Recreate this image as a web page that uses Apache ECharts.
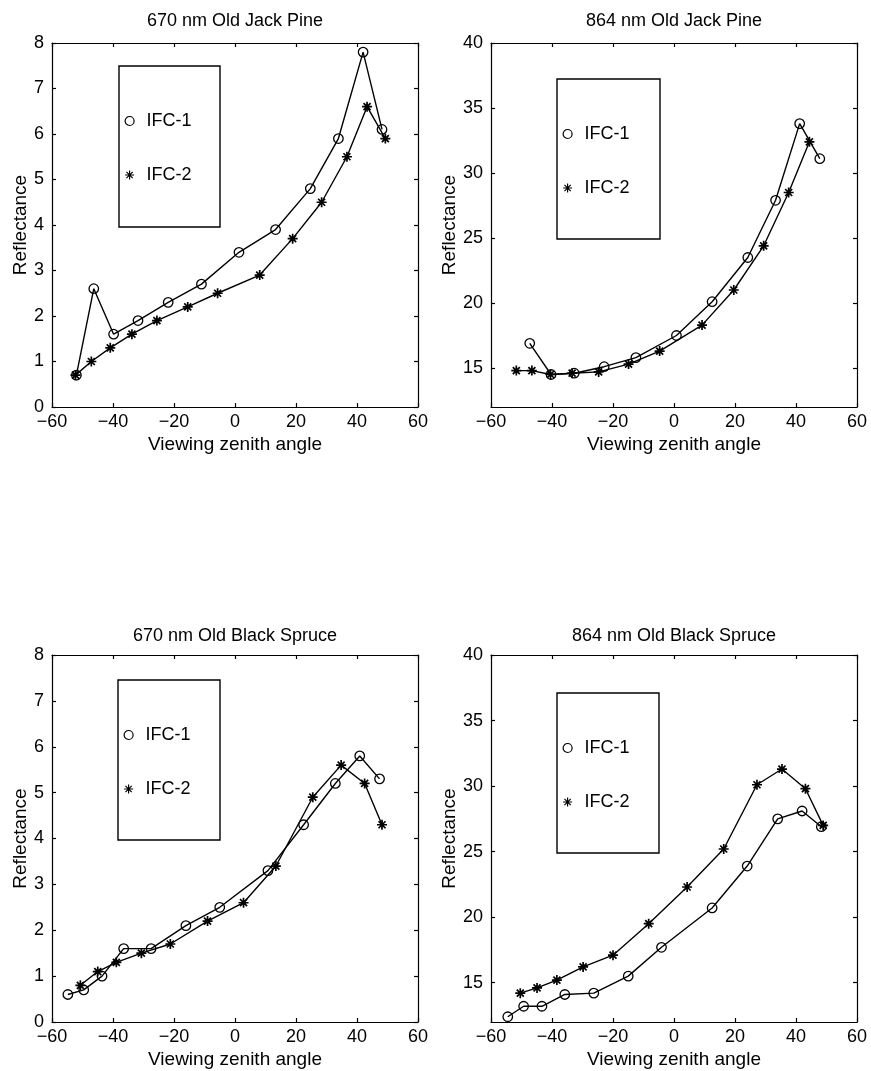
<!DOCTYPE html>
<html><head><meta charset="utf-8">
<script src="https://cdn.jsdelivr.net/npm/echarts@6/dist/echarts.min.js"></script>
<style>html,body{margin:0;padding:0;background:#fff}#c{width:871px;height:1071px}</style>
</head><body><div id="c"></div>
<script>
// ---------- data ----------
const titles = ['670 nm Old Jack Pine', '864 nm Old Jack Pine', '670 nm Old Black Spruce', '864 nm Old Black Spruce'];
const seriesNames = ['IFC-1', 'IFC-2'];
const xName = 'Viewing zenith angle';
const yName = 'Reflectance';
const xTicks = [-60, -40, -20, 0, 20, 40, 60];
const yTicks670 = [0, 1, 2, 3, 4, 5, 6, 7, 8];
const yTicks864 = [15, 20, 25, 30, 35, 40];

const jp670_ifc1_x = [-52.0, -46.3, -39.8, -31.8, -21.9, -11.0, 1.3, 13.3, 24.7, 33.9, 42.0, 48.2];
const jp670_ifc1_y = [0.7, 2.6, 1.6, 1.9, 2.3, 2.7, 3.4, 3.9, 4.8, 5.9, 7.8, 6.1];
const jp670_ifc2_x = [-52.3, -47.1, -40.9, -33.8, -25.6, -15.5, -5.7, 8.1, 18.9, 28.4, 36.7, 43.3, 49.3];
const jp670_ifc2_y = [0.7, 1.0, 1.3, 1.6, 1.9, 2.2, 2.5, 2.9, 3.7, 4.5, 5.5, 6.6, 5.9];

const jp864_ifc1_x = [-47.3, -40.3, -32.7, -22.9, -12.5, 0.8, 12.5, 24.2, 33.3, 41.2, 47.8];
const jp864_ifc1_y = [16.9, 14.5, 14.6, 15.1, 15.8, 17.5, 20.1, 23.5, 27.9, 33.8, 31.1];
const jp864_ifc2_x = [-51.7, -46.6, -40.5, -33.4, -24.7, -14.9, -4.7, 9.2, 19.6, 29.4, 37.6, 44.4];
const jp864_ifc2_y = [14.8, 14.8, 14.5, 14.6, 14.7, 15.3, 16.3, 18.3, 21.0, 24.4, 28.5, 32.4];

const bs670_ifc1_x = [-54.8, -49.6, -43.6, -36.5, -27.5, -16.1, -5.0, 10.8, 22.5, 32.9, 40.9, 47.4];
const bs670_ifc1_y = [0.6, 0.7, 1.0, 1.6, 1.6, 2.1, 2.5, 3.3, 4.3, 5.2, 5.8, 5.3];
const bs670_ifc2_x = [-50.7, -45.0, -38.9, -30.7, -21.2, -9.0, 2.8, 13.4, 25.5, 34.8, 42.5, 48.2];
const bs670_ifc2_y = [0.8, 1.1, 1.3, 1.5, 1.7, 2.2, 2.6, 3.4, 4.9, 5.6, 5.2, 4.3];

const bs864_ifc1_x = [-54.5, -49.3, -43.3, -35.8, -26.3, -15.0, -4.1, 12.5, 24.0, 34.0, 42.0, 48.3];
const bs864_ifc1_y = [12.4, 13.2, 13.2, 14.1, 14.2, 15.5, 17.7, 20.7, 23.9, 27.5, 28.1, 26.9];
const bs864_ifc2_x = [-50.4, -44.9, -38.4, -29.8, -20.0, -8.3, 4.3, 16.3, 27.2, 35.4, 43.1, 48.9];
const bs864_ifc2_y = [14.2, 14.6, 15.2, 16.2, 17.1, 19.5, 22.3, 25.2, 30.1, 31.3, 29.8, 27.0];

// ---------- layout ----------
const FONT = '"Liberation Sans", Arial, Helvetica, sans-serif';
const grids = [
  {left: 52, top: 43, width: 366, height: 364, titleY: 21},
  {left: 491, top: 43, width: 366, height: 364, titleY: 21},
  {left: 52, top: 655, width: 366, height: 367, titleY: 636},
  {left: 491, top: 655, width: 366, height: 367, titleY: 636}
];
const legendBoxes = [
  {x: 119, y: 66, w: 101, h: 161},
  {x: 557, y: 79, w: 103, h: 160},
  {x: 118, y: 680, w: 102, h: 160},
  {x: 557, y: 693, w: 102, h: 160}
];
const panelData = [
  [[jp670_ifc1_x, jp670_ifc1_y], [jp670_ifc2_x, jp670_ifc2_y]],
  [[jp864_ifc1_x, jp864_ifc1_y], [jp864_ifc2_x, jp864_ifc2_y]],
  [[bs670_ifc1_x, bs670_ifc1_y], [bs670_ifc2_x, bs670_ifc2_y]],
  [[bs864_ifc1_x, bs864_ifc1_y], [bs864_ifc2_x, bs864_ifc2_y]]
];
const is864 = [false, true, false, true];

const AST = 'path://M0,5L10,5M5,0L5,10M1.5,1.5L8.5,8.5M8.5,1.5L1.5,8.5';
const fmtNum = v => (v < 0 ? '\u2212' + (-v) : String(v));
const zip = (xs, ys) => xs.map((x, i) => [x, ys[i]]);

const option = {
  backgroundColor: '#fff',
  animation: false,
  textStyle: {fontFamily: FONT},
  title: [], grid: [], xAxis: [], yAxis: [], series: [], legend: [], graphic: []
};

grids.forEach((g, i) => {
  option.grid.push({left: g.left, top: g.top, width: g.width, height: g.height, show: false});
  option.title.push({
    text: titles[i], left: g.left + g.width / 2, top: g.titleY - 9, textAlign: 'center', padding: 0,
    textStyle: {fontFamily: FONT, fontSize: 18, lineHeight: 18, fontWeight: 'normal', color: '#000'}
  });
  const lineC = {show: true, onZero: false, lineStyle: {color: '#000', width: 1.2}};
  const tickC = {show: true, inside: true, length: 4, lineStyle: {color: '#000', width: 1.2}};
  const xBase = {type: 'value', gridIndex: i, min: xTicks[0], max: xTicks[xTicks.length - 1], interval: 20,
    splitLine: {show: false}, axisLine: lineC};
  option.xAxis.push(Object.assign({}, xBase, {
    position: 'bottom', axisTick: tickC,
    axisLabel: {color: '#000', fontSize: 18, fontFamily: FONT, margin: 6, formatter: fmtNum},
    name: xName, nameLocation: 'middle', nameGap: 28,
    nameTextStyle: {color: '#000', fontSize: 19, fontFamily: FONT}
  }));
  option.xAxis.push(Object.assign({}, xBase, {position: 'top', axisTick: tickC, axisLabel: {show: false}}));
  let yBase;
  if (is864[i]) {
    yBase = {type: 'value', gridIndex: i, min: 12, max: 40, splitLine: {show: false}, axisLine: lineC};
  } else {
    yBase = {type: 'value', gridIndex: i, min: yTicks670[0], max: yTicks670[yTicks670.length - 1], interval: 1,
      splitLine: {show: false}, axisLine: lineC};
  }
  const yTickOpt = is864[i] ? Object.assign({}, tickC, {customValues: yTicks864}) : tickC;
  const yLabelOpt = {color: '#000', fontSize: 18, fontFamily: FONT, margin: 8, formatter: fmtNum};
  if (is864[i]) yLabelOpt.customValues = yTicks864;
  option.yAxis.push(Object.assign({}, yBase, {
    position: 'left', axisTick: yTickOpt, axisLabel: yLabelOpt,
    name: yName, nameLocation: 'middle', nameGap: 19,
    nameTextStyle: {color: '#000', fontSize: 19, fontFamily: FONT}
  }));
  option.yAxis.push(Object.assign({}, yBase, {position: 'right', axisTick: yTickOpt, axisLabel: {show: false}}));

  panelData[i].forEach((d, k) => {
    option.series.push({
      name: seriesNames[k], type: 'line', xAxisIndex: 2 * i, yAxisIndex: 2 * i,
      data: zip(d[0], d[1]),
      symbol: k === 0 ? 'circle' : AST,
      symbolSize: k === 0 ? 9.5 : 10,
      showSymbol: true,
      lineStyle: {color: '#000', width: 1.4},
      itemStyle: k === 0
        ? {color: 'rgba(255,255,255,0)', borderColor: '#000', borderWidth: 1.3}
        : {color: '#000', borderColor: '#000', borderWidth: 1.7},
      emphasis: {disabled: true},
      z: 3
    });
  });

  const lb = legendBoxes[i];
  option.graphic.push({
    type: 'rect', shape: {x: lb.x, y: lb.y, width: lb.w, height: lb.h},
    style: {fill: 'none', stroke: '#000', lineWidth: 1.4}, z: 1, silent: true
  });
  option.legend.push({
    orient: 'vertical', left: lb.x + 5.5, top: lb.y + 45, padding: 0,
    itemWidth: 9, itemHeight: 9, itemGap: 34, selectedMode: false,
    itemStyle: {borderWidth: 1.2},
    data: [{name: seriesNames[0], icon: 'circle'}, {name: seriesNames[1], icon: AST}],
    textStyle: {color: '#000', fontSize: 18, fontFamily: FONT, lineHeight: 20, padding: [0, 0, 0, 7.5]}
  });
});

const chart = echarts.init(document.getElementById('c'), null, {renderer: 'canvas'});
chart.setOption(option);
</script>
</body></html>
